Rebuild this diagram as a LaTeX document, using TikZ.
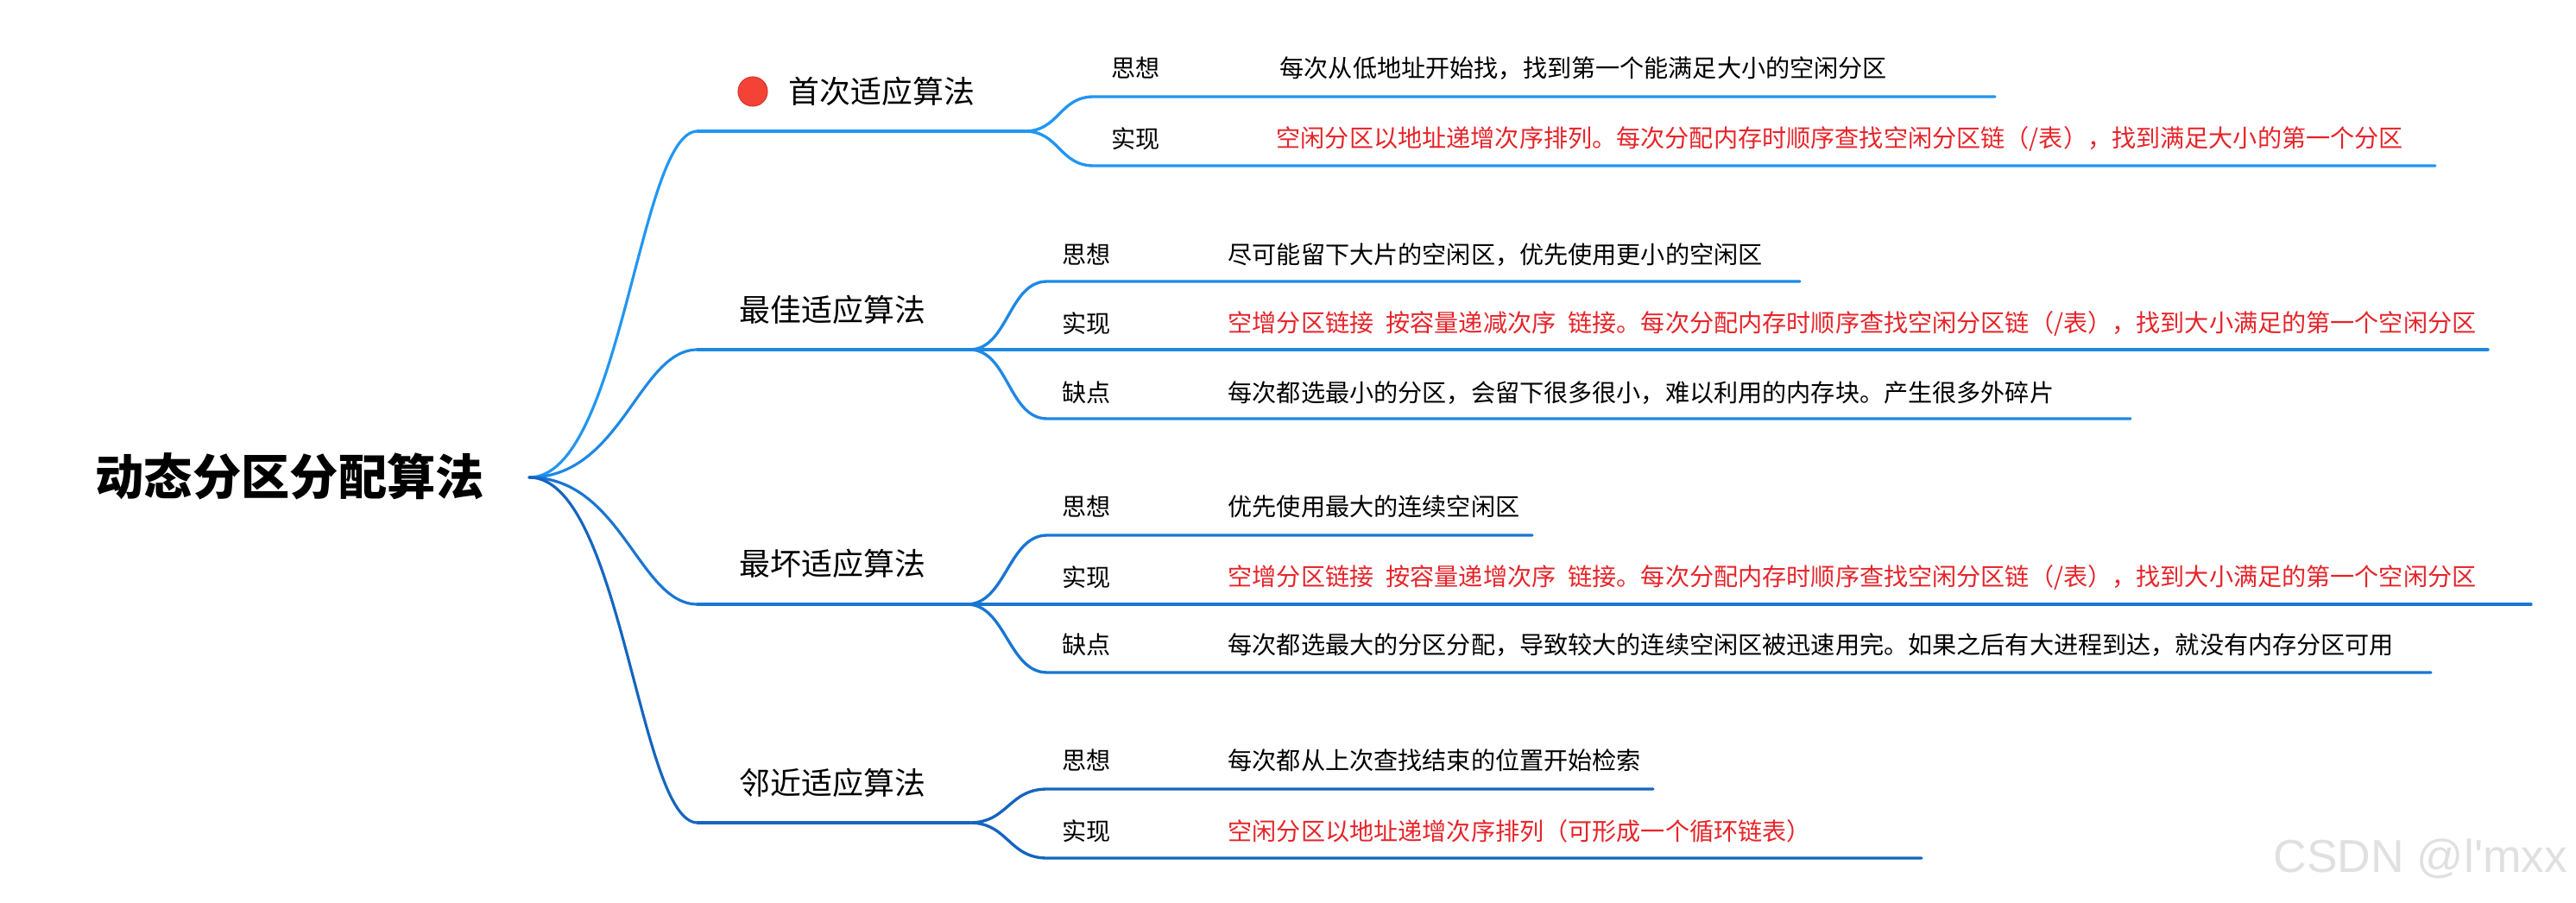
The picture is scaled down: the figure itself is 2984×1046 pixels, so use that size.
\documentclass[tikz,border=0pt]{standalone}
\usepackage{fontspec}
\setmainfont{Noto Sans CJK SC}
\newfontfamily\wmfont{Liberation Sans}
\definecolor{bOne}{RGB}{33,150,243}
\definecolor{bTwo}{RGB}{30,136,229}
\definecolor{bThree}{RGB}{25,118,210}
\definecolor{bFour}{RGB}{21,101,192}
\definecolor{hlred}{RGB}{230,36,41}
\definecolor{dotred}{RGB}{244,67,54}

\begin{document}
\begin{tikzpicture}[x=0.01cm,y=-0.01cm,
  link/.style={line width=0.95pt,line cap=round},
  trunk/.style={line width=0.9pt,line cap=round},
  rootlbl/.style={anchor=west,inner sep=0pt,font=\fontsize{16}{18}\selectfont\bfseries},
  algo/.style={anchor=west,inner sep=0pt,font=\fontsize{10.2}{12}\selectfont},
  tag/.style={anchor=west,inner sep=0pt,font=\fontsize{8}{10}\selectfont},
  note/.style={anchor=west,inner sep=0pt,font=\fontsize{8}{10}\selectfont},
  rednote/.style={note,text=hlred}]
  \useasboundingbox (0,0) rectangle (2984,1046);
  \node[rootlbl] (root) at (110,552) {动态分区分配算法};
  \coordinate (hub) at (613,553);

  \coordinate (a1s) at (808,152);
  \coordinate (a1f) at (1187,152);
  \coordinate (a1p) at (1267,112);
  \coordinate (a1pe) at (2311,112);
  \coordinate (a1q) at (1267,192);
  \coordinate (a1qe) at (2821,192);
  \draw[trunk,bOne] (hub) .. controls +(107,0) and +(-68,0) .. (a1s);
  \draw[link,bOne] (a1s) -- (a1f);
  \draw[link,bOne] (a1f) .. controls +(40,0) and +(-40,0) .. (a1p) -- (a1pe);
  \draw[link,bOne] (a1f) .. controls +(40,0) and +(-40,0) .. (a1q) -- (a1qe);
  \node[circle,fill=dotred,draw=dotred!85!black,line width=0.3pt,minimum size=0.34cm,inner sep=0pt] (dot1) at (872,106) {};
  \node[algo] (a1) at (913,106) {首次适应算法};
  \node[tag] (a1t1) at (1287,79) {思想};
  \node[note] (a1n1) at (1482,79) {每次从低地址开始找，找到第一个能满足大小的空闲分区};
  \node[tag] (a1t2) at (1287,161) {实现};
  \node[rednote] (a1n2) at (1478,161) {空闲分区以地址递增次序排列。每次分配内存时顺序查找空闲分区链（/表），找到满足大小的第一个分区};

  \coordinate (a2s) at (808,405);
  \coordinate (a2f) at (1123,405);
  \coordinate (a2p) at (1213,326);
  \coordinate (a2pe) at (2085,326);
  \coordinate (a2qe) at (2882,405);
  \coordinate (a2r) at (1213,485);
  \coordinate (a2re) at (2468,485);
  \draw[trunk,bTwo] (hub) .. controls +(107,0) and +(-68,0) .. (a2s);
  \draw[link,bTwo] (a2s) -- (a2f) -- (a2qe);
  \draw[link,bTwo] (a2f) .. controls +(45,0) and +(-45,0) .. (a2p) -- (a2pe);
  \draw[link,bTwo] (a2f) .. controls +(45,0) and +(-45,0) .. (a2r) -- (a2re);
  \node[algo] (a2) at (856,359) {最佳适应算法};
  \node[tag] (a2t1) at (1230,295) {思想};
  \node[note] (a2n1) at (1422,295) {尽可能留下大片的空闲区，优先使用更小的空闲区};
  \node[tag] (a2t2) at (1230,375) {实现};
  \node[rednote] (a2n2) at (1422,375) {空增分区链接\hspace{0.5em}按容量递减次序\hspace{0.5em}链接。每次分配内存时顺序查找空闲分区链（/表），找到大小满足的第一个空闲分区};
  \node[tag] (a2t3) at (1230,455) {缺点};
  \node[note] (a2n3) at (1422,455) {每次都选最小的分区，会留下很多很小，难以利用的内存块。产生很多外碎片};

  \coordinate (a3s) at (808,700);
  \coordinate (a3f) at (1120,700);
  \coordinate (a3p) at (1213,620);
  \coordinate (a3pe) at (1775,620);
  \coordinate (a3qe) at (2932,700);
  \coordinate (a3r) at (1213,779);
  \coordinate (a3re) at (2816,779);
  \draw[trunk,bThree] (hub) .. controls +(107,0) and +(-68,0) .. (a3s);
  \draw[link,bThree] (a3s) -- (a3f) -- (a3qe);
  \draw[link,bThree] (a3f) .. controls +(45,0) and +(-45,0) .. (a3p) -- (a3pe);
  \draw[link,bThree] (a3f) .. controls +(45,0) and +(-45,0) .. (a3r) -- (a3re);
  \node[algo] (a3) at (856,653) {最坏适应算法};
  \node[tag] (a3t1) at (1230,587) {思想};
  \node[note] (a3n1) at (1422,587) {优先使用最大的连续空闲区};
  \node[tag] (a3t2) at (1230,669) {实现};
  \node[rednote] (a3n2) at (1422,669) {空增分区链接\hspace{0.5em}按容量递增次序\hspace{0.5em}链接。每次分配内存时顺序查找空闲分区链（/表），找到大小满足的第一个空闲分区};
  \node[tag] (a3t3) at (1230,747) {缺点};
  \node[note] (a3n3) at (1422,747) {每次都选最大的分区分配，导致较大的连续空闲区被迅速用完。如果之后有大进程到达，就没有内存分区可用};

  \coordinate (a4s) at (808,953);
  \coordinate (a4f) at (1123,953);
  \coordinate (a4p) at (1213,914);
  \coordinate (a4pe) at (1915,914);
  \coordinate (a4q) at (1213,994);
  \coordinate (a4qe) at (2226,994);
  \draw[trunk,bFour] (hub) .. controls +(107,0) and +(-68,0) .. (a4s);
  \draw[link,bFour] (a4s) -- (a4f);
  \draw[link,bFour] (a4f) .. controls +(45,0) and +(-45,0) .. (a4p) -- (a4pe);
  \draw[link,bFour] (a4f) .. controls +(45,0) and +(-45,0) .. (a4q) -- (a4qe);
  \node[algo] (a4) at (856,907) {邻近适应算法};
  \node[tag] (a4t1) at (1230,881) {思想};
  \node[note] (a4n1) at (1422,881) {每次都从上次查找结束的位置开始检索};
  \node[tag] (a4t2) at (1230,963) {实现};
  \node[rednote] (a4n2) at (1422,963) {空闲分区以地址递增次序排列（可形成一个循环链表）};

  \node[anchor=west,inner sep=0pt,text=black!12,font=\wmfont\fontsize{15.2}{17}\selectfont] (wm) at (2633,995) {CSDN @l'mxx};
\end{tikzpicture}
\end{document}
